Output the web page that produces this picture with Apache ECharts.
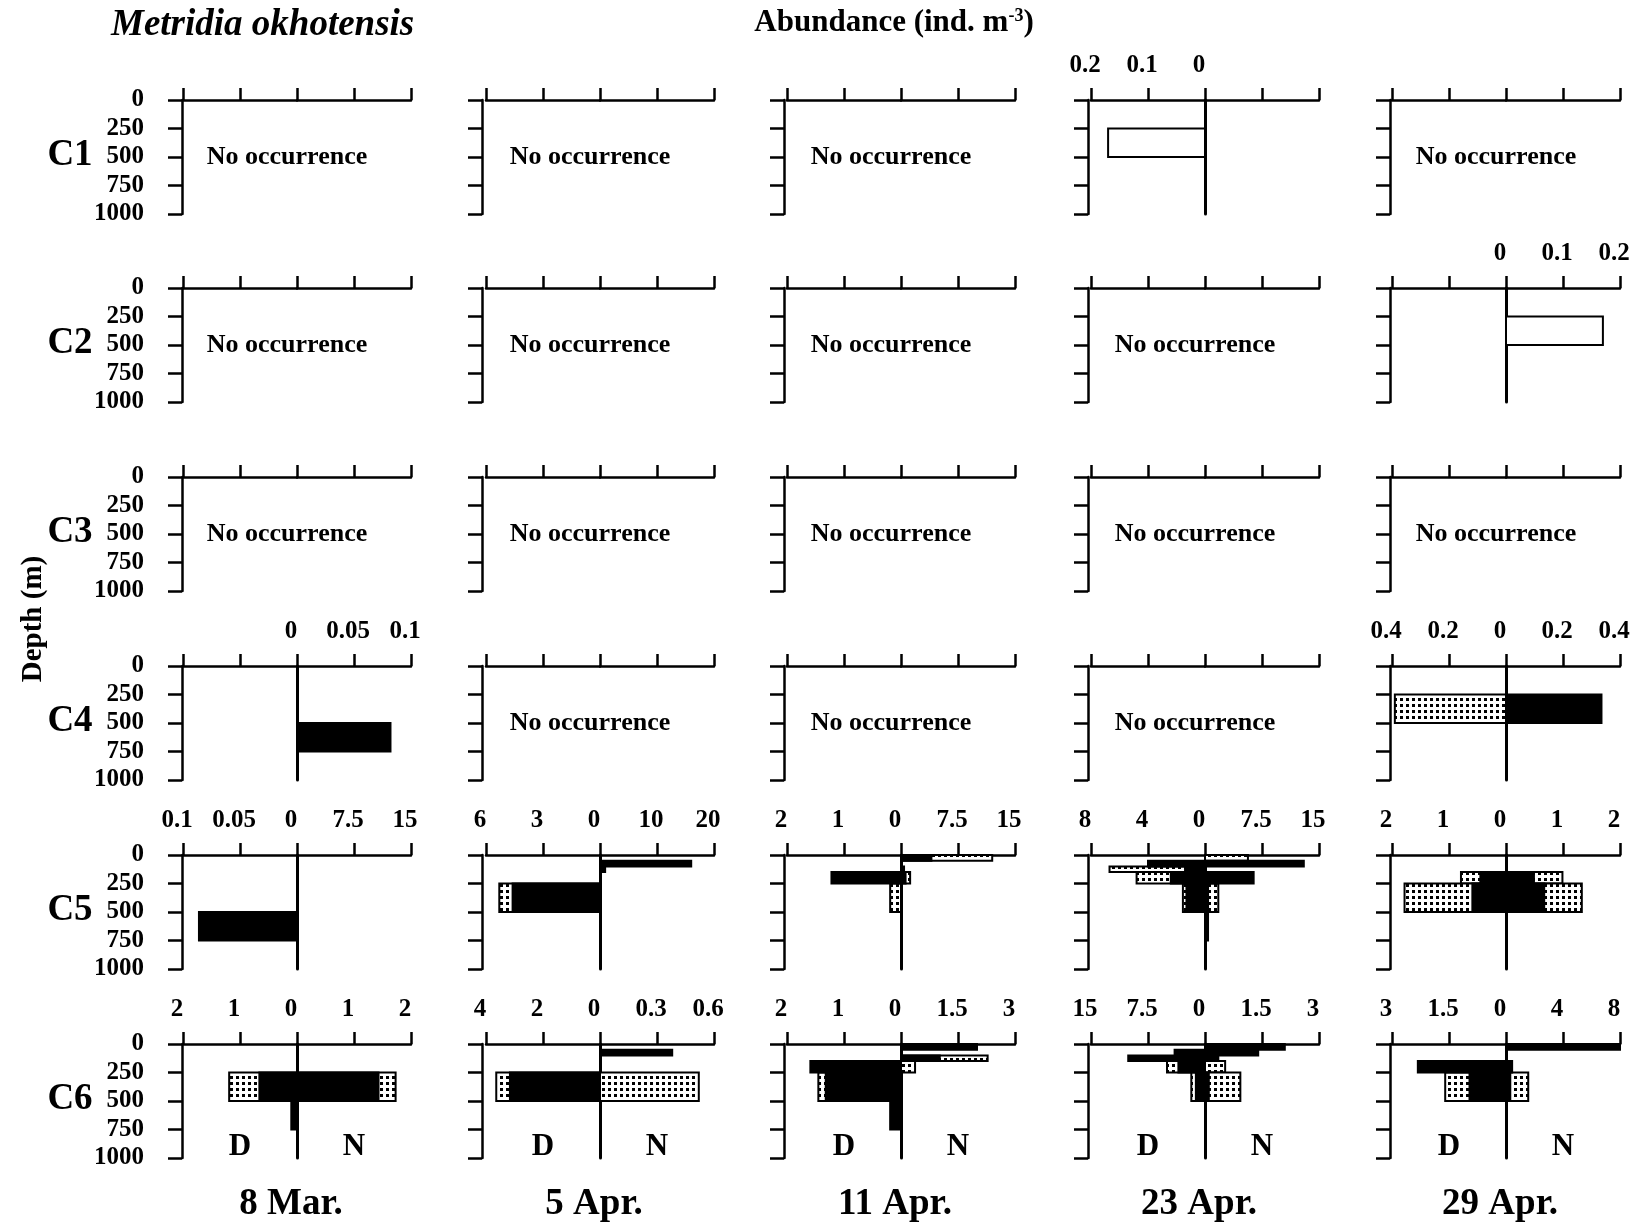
<!DOCTYPE html>
<html><head><meta charset="utf-8">
<script src="https://cdn.jsdelivr.net/npm/echarts@6/dist/echarts.min.js"></script>
<style>html,body{margin:0;padding:0;background:#fff}#c{width:1637px;height:1226px}</style>
</head><body><div id="c"></div>
<script>
// ---------- DATA ----------
const stages = ['C1','C2','C3','C4','C5','C6'];
const dates = ['8 Mar.','5 Apr.','11 Apr.','23 Apr.','29 Apr.'];
// depth strata boundaries (m): 0-50, 50-100, 100-150, 150-250, 250-500, 500-750, 750-1000
const strata = [0,50,100,150,250,500,750,1000];
const depthTicks = [0,250,500,750,1000];

// axis maxima per panel [day side (D, left), night side (N, right)]; null = unlabeled
const C1_scales = [null, null, null, [0.2, null], null];
const C2_scales = [null, null, null, null, [null, 0.2]];
const C3_scales = [null, null, null, null, null];
const C4_scales = [[null, 0.1], null, null, null, [0.4, 0.4]];
const C5_scales = [[0.1, 15], [6, 20], [2, 15], [8, 15], [2, 2]];
const C6_scales = [[2, 2], [4, 0.6], [2, 3], [15, 3], [3, 8]];

// abundance (ind. m-3) per stratum
const c1_23apr_D_open  = [0,0,0,0,0.17,0,0];
const c2_29apr_N_open  = [0,0,0,0,0.17,0,0];
const c4_8mar_N_black  = [0,0,0,0,0,0.082,0];
const c4_29apr_D_stip  = [0,0,0,0,0.39,0,0];
const c4_29apr_N_black = [0,0,0,0,0.335,0,0];

const c5_8mar_D_black  = [0,0,0,0,0,0.086,0];
const c5_5apr_D_stip   = [0,0,0,0,5.3,0,0];
const c5_5apr_D_black  = [0,0,0,0,4.6,0,0];
const c5_5apr_N_black  = [0,16,0.9,0,0,0,0];
const c5_11apr_D_stip  = [0,0,0,0,0.19,0,0];
const c5_11apr_D_black = [0,0,0,1.22,0,0,0];
const c5_11apr_N_stip  = [12,0,0,1.2,0,0,0];
const c5_11apr_N_black = [4,0,0.4,0.6,0,0,0];
const c5_23apr_D_stip  = [0,0,6.7,4.8,1.55,0,0];
const c5_23apr_D_black = [0,4.0,1.4,2.4,1.3,0,0];
const c5_23apr_N_stip  = [5.65,0,0,0,1.75,0,0];
const c5_23apr_N_black = [0,13,0,6.4,0.4,0.4,0];
const c5_29apr_D_stip  = [0,0,0,0.79,1.78,0,0];
const c5_29apr_D_black = [0,0,0,0.45,0.59,0,0];
const c5_29apr_N_stip  = [0,0,0,0.99,1.33,0,0];
const c5_29apr_N_black = [0,0,0,0.49,0.67,0,0];

const c6_8mar_D_stip   = [0,0,0,0,1.19,0,0];
const c6_8mar_D_black  = [0,0,0,0,0.66,0.1,0];
const c6_8mar_N_stip   = [0,0,0,0,1.73,0,0];
const c6_8mar_N_black  = [0,0,0,0,1.43,0,0];
const c6_5apr_D_stip   = [0,0,0,0,3.64,0,0];
const c6_5apr_D_black  = [0,0,0,0,3.16,0,0];
const c6_5apr_N_stip   = [0,0,0,0,0.52,0,0];
const c6_5apr_N_black  = [0,0.38,0,0,0,0,0];
const c6_11apr_D_stip  = [0,0,0,0,1.45,0,0];
const c6_11apr_D_black = [0,0,0,1.59,1.32,0.19,0];
const c6_11apr_N_stip  = [0,0,2.28,0.37,0,0,0];
const c6_11apr_N_black = [2.0,0,1.02,0,0,0,0];
const c6_23apr_D_stip  = [0,0,0,5.0,1.8,0,0];
const c6_23apr_D_black = [0,4.0,10.1,3.5,1.2,0,0];
const c6_23apr_N_stip  = [0,0,0,0.53,0.93,0,0];
const c6_23apr_N_black = [2.1,1.4,0.35,0,0.1,0,0];
const c6_29apr_D_stip  = [0,0,0,0,1.6,0,0];
const c6_29apr_D_black = [0,0,0,2.32,0.96,0,0];
const c6_29apr_N_stip  = [0,0,0,0,1.56,0,0];
const c6_29apr_N_black = [8.0,0,0,0.43,0.3,0,0];

// ---------- BUILD ----------
const scalesByRow = [C1_scales, C2_scales, C3_scales, C4_scales, C5_scales, C6_scales];
const panels = {
  '0,3': {D: [['open', c1_23apr_D_open]], N: []},
  '1,4': {D: [], N: [['open', c2_29apr_N_open]]},
  '3,0': {D: [], N: [['black', c4_8mar_N_black]]},
  '3,4': {D: [['stip', c4_29apr_D_stip]], N: [['black', c4_29apr_N_black]]},
  '4,0': {D: [['black', c5_8mar_D_black]], N: []},
  '4,1': {D: [['stip', c5_5apr_D_stip], ['black', c5_5apr_D_black]], N: [['black', c5_5apr_N_black]]},
  '4,2': {D: [['stip', c5_11apr_D_stip], ['black', c5_11apr_D_black]], N: [['stip', c5_11apr_N_stip], ['black', c5_11apr_N_black]]},
  '4,3': {D: [['stip', c5_23apr_D_stip], ['black', c5_23apr_D_black]], N: [['stip', c5_23apr_N_stip], ['black', c5_23apr_N_black]]},
  '4,4': {D: [['stip', c5_29apr_D_stip], ['black', c5_29apr_D_black]], N: [['stip', c5_29apr_N_stip], ['black', c5_29apr_N_black]]},
  '5,0': {D: [['stip', c6_8mar_D_stip], ['black', c6_8mar_D_black]], N: [['stip', c6_8mar_N_stip], ['black', c6_8mar_N_black]]},
  '5,1': {D: [['stip', c6_5apr_D_stip], ['black', c6_5apr_D_black]], N: [['stip', c6_5apr_N_stip], ['black', c6_5apr_N_black]]},
  '5,2': {D: [['stip', c6_11apr_D_stip], ['black', c6_11apr_D_black]], N: [['stip', c6_11apr_N_stip], ['black', c6_11apr_N_black]]},
  '5,3': {D: [['stip', c6_23apr_D_stip], ['black', c6_23apr_D_black]], N: [['stip', c6_23apr_N_stip], ['black', c6_23apr_N_black]]},
  '5,4': {D: [['stip', c6_29apr_D_stip], ['black', c6_29apr_D_black]], N: [['stip', c6_29apr_N_stip], ['black', c6_29apr_N_black]]}
};

const COL_X = [183, 486, 787, 1091, 1392];
const AXIS_OFF = [1, 4, 3, 3, 2];
const ROW_Y = [100, 288, 477, 666, 855, 1044];
const HALF = 114, H = 114;
const FONT = '"Liberation Serif", "Times New Roman", serif';

// stipple pattern
const pc = document.createElement('canvas');
pc.width = 6; pc.height = 6;
const pg = pc.getContext('2d');
pg.fillStyle = '#fff'; pg.fillRect(0, 0, 6, 6);
pg.fillStyle = '#000'; pg.fillRect(2, 2, 3, 3);
const stipFill = {image: pc, repeat: 'repeat'};
const styleCode = {stip: 0, open: 1, black: 2};

const grids = [], xAxes = [], yAxes = [], series = [], graphics = [];
const lineW = 2.5;

function fmt(v) { return String(Math.round(v * 1000) / 1000); }

for (let r = 0; r < 6; r++) {
  for (let c = 0; c < 5; c++) {
    const sc = scalesByRow[r][c] || [null, null];
    const pd = panels[r + ',' + c];
    const hasData = !!pd;
    const top = ROW_Y[r];
    for (let side = 0; side < 2; side++) {
      const gi = grids.length;
      const m = sc[side];
      const otherLabeled = sc[1 - side] != null;
      grids.push({left: COL_X[c] + side * HALF, top: top, width: HALF, height: H});
      xAxes.push({
        gridIndex: gi, type: 'value', position: 'top', min: 0, max: m || 1, interval: (m || 1) / 2,
        inverse: side === 0,
        axisLine: {show: true, onZero: false, lineStyle: {color: '#000', width: lineW}},
        axisTick: {show: true, inside: false, length: 12, lineStyle: {color: '#000', width: lineW}},
        axisLabel: {
          show: m != null, showMinLabel: true, showMaxLabel: true, hideOverlap: false,
          margin: 22, color: '#000', fontFamily: FONT, fontWeight: 'bold', fontSize: 25,
          padding: [0, 12, 0, 0],
          formatter: (v) => (side === 0 && v === 0 && otherLabeled) ? '' : fmt(v)
        },
        splitLine: {show: false}
      });
      if (side === 0) {
        yAxes.push({
          gridIndex: gi, type: 'value', min: 0, max: 1000, interval: 250, inverse: true,
          offset: AXIS_OFF[c],
          axisLine: {show: true, onZero: false, lineStyle: {color: '#000', width: lineW}},
          axisTick: {show: true, inside: false, length: 14, lineStyle: {color: '#000', width: lineW}},
          axisLabel: {show: c === 0, margin: 38, color: '#000', fontFamily: FONT, fontWeight: 'bold', fontSize: 25,
            showMinLabel: true, showMaxLabel: true,
            formatter: (v) => String(depthTicks[depthTicks.indexOf(v)])},
          splitLine: {show: false}
        });
      } else {
        yAxes.push({
          gridIndex: gi, type: 'value', min: 0, max: 1000, inverse: true,
          axisLine: {show: hasData, onZero: false, lineStyle: {color: '#000', width: 3}},
          axisTick: {show: false}, axisLabel: {show: false}, splitLine: {show: false}
        });
      }
      if (hasData) {
        const list = side === 0 ? pd.D : pd.N;
        const items = [];
        list.forEach(([st, arr]) => {
          arr.forEach((v, k) => {
            if (v > 0) items.push([strata[k], strata[k + 1], v, styleCode[st]]);
          });
        });
        series.push({
          type: 'custom', xAxisIndex: gi, yAxisIndex: gi, silent: true, animation: false,
          clip: false,
          encode: {x: 2, y: [0, 1]},
          data: items,
          renderItem: function (params, api) {
            const t = api.value(0), b = api.value(1), v = api.value(2), s = api.value(3);
            const p0 = api.coord([0, t]);
            const p1 = api.coord([v, b]);
            const x = Math.min(p0[0], p1[0]);
            const w = Math.abs(p1[0] - p0[0]);
            return {
              type: 'rect',
              shape: {x: x, y: p0[1], width: w, height: p1[1] - p0[1]},
              style: {fill: s === 0 ? stipFill : (s === 1 ? '#fff' : '#000'), stroke: '#000', lineWidth: 2}
            };
          }
        });
      }
    }
    const cx = COL_X[c] + HALF;
    if (!hasData) {
      graphics.push({type: 'text', x: cx - 10, y: top + 57,
        style: {text: 'No occurrence', font: 'bold 26px ' + FONT, fill: '#000', textAlign: 'center', textVerticalAlign: 'middle'}});
    }
    if (r === 5) {
      graphics.push({type: 'text', x: COL_X[c] + HALF / 2, y: top + 103,
        style: {text: 'D', font: 'bold 31px ' + FONT, fill: '#000', textAlign: 'center', textVerticalAlign: 'middle'}});
      graphics.push({type: 'text', x: COL_X[c] + HALF * 1.5, y: top + 103,
        style: {text: 'N', font: 'bold 31px ' + FONT, fill: '#000', textAlign: 'center', textVerticalAlign: 'middle'}});
      graphics.push({type: 'text', x: cx - 6, y: 1204,
        style: {text: dates[c], font: 'bold 37px ' + FONT, fill: '#000', textAlign: 'center', textVerticalAlign: 'middle'}});
    }
  }
  graphics.push({type: 'text', x: 70, y: ROW_Y[r] + 55,
    style: {text: stages[r], font: 'bold 37px ' + FONT, fill: '#000', textAlign: 'center', textVerticalAlign: 'middle'}});
}

graphics.push({type: 'text', x: 111, y: 25,
  style: {text: 'Metridia okhotensis', font: 'italic bold 37px ' + FONT, fill: '#000', textAlign: 'left', textVerticalAlign: 'middle'}});
graphics.push({type: 'text', x: 894, y: 23,
  style: {text: '{a|Abundance (ind. m}{s|-3}{a|)}', fill: '#000', textAlign: 'center', textVerticalAlign: 'middle',
    rich: {a: {font: 'bold 31px ' + FONT, fill: '#000', color: '#000'}, s: {font: 'bold 18px ' + FONT, verticalAlign: 'top', color: '#000', fill: '#000'}}}});
graphics.push({type: 'text', x: 34, y: 619, rotation: Math.PI / 2,
  style: {text: 'Depth (m)', font: 'bold 29px ' + FONT, fill: '#000', textAlign: 'center', textVerticalAlign: 'middle'}});

const chart = echarts.init(document.getElementById('c'), null, {renderer: 'canvas'});
chart.setOption({
  animation: false,
  backgroundColor: '#fff',
  grid: grids, xAxis: xAxes, yAxis: yAxes, series: series, graphic: graphics
});
</script></body></html>
